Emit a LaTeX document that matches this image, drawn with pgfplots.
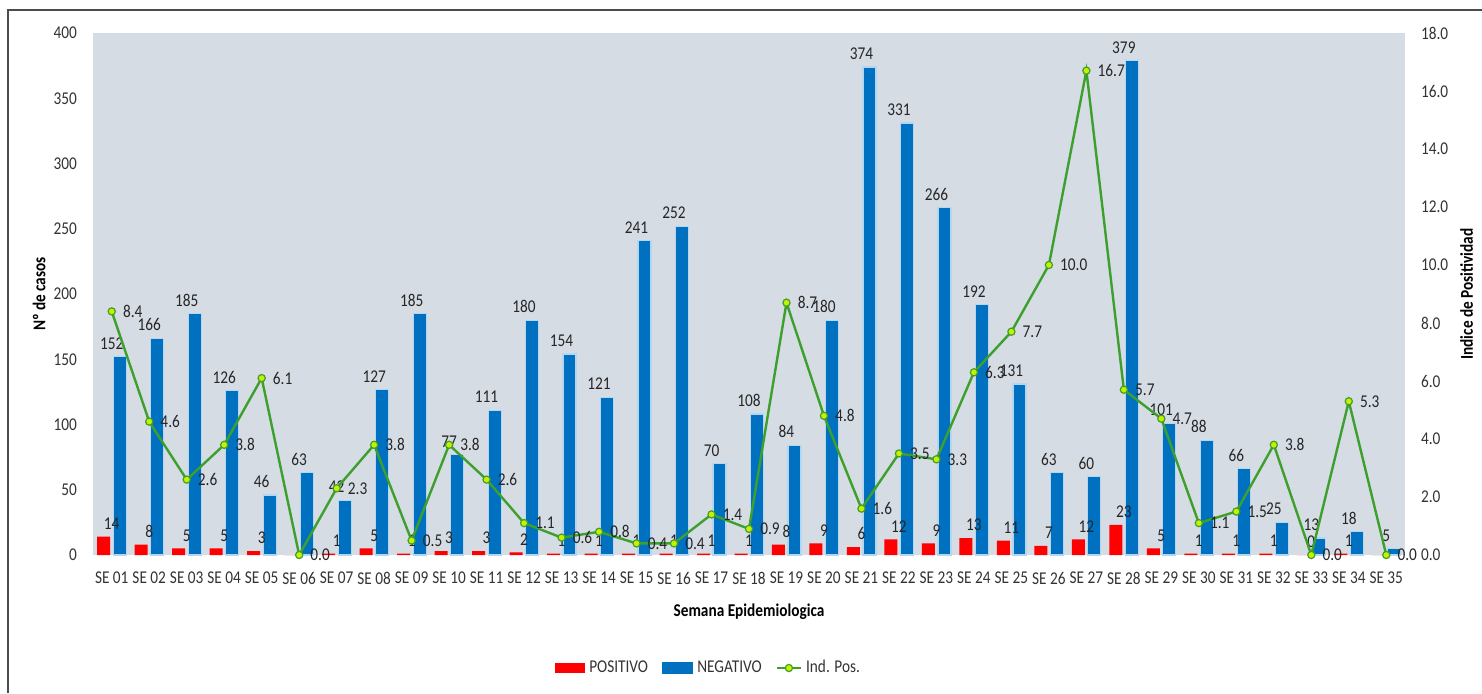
\documentclass[border=0pt]{standalone}
\usepackage{fontspec}
\setmainfont[FakeStretch=0.85]{Carlito}
\usepackage{pgfplots}
\pgfplotsset{compat=1.18}
\usepackage{pgfplotstable}
\definecolor{bgc}{HTML}{D6DCE4}
\definecolor{redc}{HTML}{FF0000}
\definecolor{bluec}{HTML}{0070C0}
\definecolor{glowc}{HTML}{B4D6F0}
\definecolor{greenc}{HTML}{3DA02D}
\definecolor{yellowc}{HTML}{C8F000}
\definecolor{txt}{HTML}{333333}

\pgfplotstableread{
x pos neg ind pl
1 14 152 8.4 1
2 8 166 4.6 1
3 5 185 2.6 1
4 5 126 3.8 1
5 3 46 6.1 1
6 0 63 0.0 0
7 1 42 2.3 1
8 5 127 3.8 1
9 1 185 0.5 1
10 3 77 3.8 1
11 3 111 2.6 1
12 2 180 1.1 1
13 1 154 0.6 1
14 1 121 0.8 1
15 1 241 0.4 1
16 1 252 0.4 1
17 1 70 1.4 1
18 1 108 0.9 1
19 8 84 8.7 1
20 9 180 4.8 1
21 6 374 1.6 1
22 12 331 3.5 1
23 9 266 3.3 1
24 13 192 6.3 1
25 11 131 7.7 1
26 7 63 10.0 1
27 12 60 16.7 1
28 23 379 5.7 1
29 5 101 4.7 1
30 1 88 1.1 1
31 1 66 1.5 1
32 1 25 3.8 1
33 0 13 0.0 1
34 1 18 5.3 1
35 0 5 0.0 0
}\data

\newcommand\lblfont{\fontsize{9}{10}\selectfont}
\newcommand\ttlfont{\fontsize{9}{10}\selectfont\bfseries}

\begin{document}
\begin{tikzpicture}
\path[use as bounding box] (0,0) rectangle (741pt,346.5pt);
\draw[line width=0.8pt, color=black!70] (4pt,0) -- (4pt,341.5pt) -- (741pt,341.5pt);
\begin{axis}[
  at={(46.5pt,69pt)}, anchor=south west,
  scale only axis, width=656pt, height=261pt,
  xmin=0.5, xmax=35.5, ymin=0, ymax=400,
  clip=false,
  axis background/.style={fill=bgc},
  axis line style={draw=none},
  major tick length=0pt,
  tick style={draw=none},
  /pgf/number format/assume math mode=true,
  ytick={0,50,...,400},
  xtick={1,...,35},
  xticklabels={SE 01,SE 02,SE 03,SE 04,SE 05,SE 06,SE 07,SE 08,SE 09,SE 10,SE 11,SE 12,SE 13,SE 14,SE 15,SE 16,SE 17,SE 18,SE 19,SE 20,SE 21,SE 22,SE 23,SE 24,SE 25,SE 26,SE 27,SE 28,SE 29,SE 30,SE 31,SE 32,SE 33,SE 34,SE 35},
  tick label style={font=\lblfont, text=txt},
  yticklabel style={xshift=-4.5pt},
  xticklabel style={yshift=-5pt},
  xlabel={Semana Epidemiologica},
  xlabel style={font=\ttlfont, at={(axis description cs:0.5,-0.109)}, anchor=center},
  ylabel={Nº de casos},
  ylabel style={font=\ttlfont, at={(axis description cs:-0.041,0.5)}, anchor=center},
  legend columns=3,
  legend style={draw=none, fill=none, font=\lblfont, text=txt,
    at={(axis description cs:0.47,-0.2165)}, anchor=center,
    /tikz/every even column/.append style={column sep=5pt}},
]
\addplot[ybar, bar width=6.5pt, bar shift=-4pt, fill=redc, draw=none,
  visualization depends on={\thisrow{pl} \as \pl},
  nodes near coords={\ifdim\pl pt>0pt\pgfmathprintnumber{\pgfplotspointmeta}\fi},
  every node near coord/.append style={font=\lblfont, text=black!85},
  legend image code/.code={\fill[redc] (0pt,-2.5pt) rectangle (15pt,2.5pt);}]
  table[x=x,y=pos]{\data};
\addlegendentry{POSITIVO}
\addplot[ybar, bar width=6.5pt, bar shift=4pt, fill=bluec, draw=glowc, line width=0.6pt,
  nodes near coords,
  every node near coord/.append style={font=\lblfont, text=black!85},
  legend image code/.code={\fill[bluec] (0pt,-2.5pt) rectangle (15pt,2.5pt);}]
  table[x=x,y=neg]{\data};
\addlegendentry{NEGATIVO}
\addlegendimage{legend image code/.code={\draw[greenc,line width=1.2pt] (0pt,0pt) -- (12pt,0pt); \draw[greenc,fill=yellowc,line width=0.6pt] (6pt,0pt) circle (1.8pt);}}
\addlegendentry{Ind. Pos.}
\end{axis}
\begin{axis}[
  at={(46.5pt,69pt)}, anchor=south west,
  scale only axis, width=656pt, height=261pt,
  xmin=0.5, xmax=35.5, ymin=0, ymax=18,
  clip=false,
  axis x line=none, axis y line*=right,
  y axis line style={draw=none},
  major tick length=0pt,
  tick style={draw=none},
  /pgf/number format/assume math mode=true,
  ytick={0,2,...,18},
  yticklabel style={font=\lblfont, text=txt, xshift=4.5pt,
    /pgf/number format/.cd, fixed, fixed zerofill, precision=1},
  ylabel={Indice de Positividad},
  ylabel style={font=\ttlfont, at={(axis description cs:1.047,0.5)}, anchor=center},
]
\addplot[color=greenc, line width=1.2pt, mark=*, mark size=1.8pt,
  mark options={fill=yellowc, draw=greenc, line width=0.6pt},
  nodes near coords={\pgfmathprintnumber[fixed,fixed zerofill,precision=1]{\pgfplotspointmeta}},
  every node near coord/.append style={font=\lblfont, text=black!85, anchor=west, xshift=2pt}]
  table[x=x,y=ind]{\data};
\end{axis}
\end{tikzpicture}
\end{document}
